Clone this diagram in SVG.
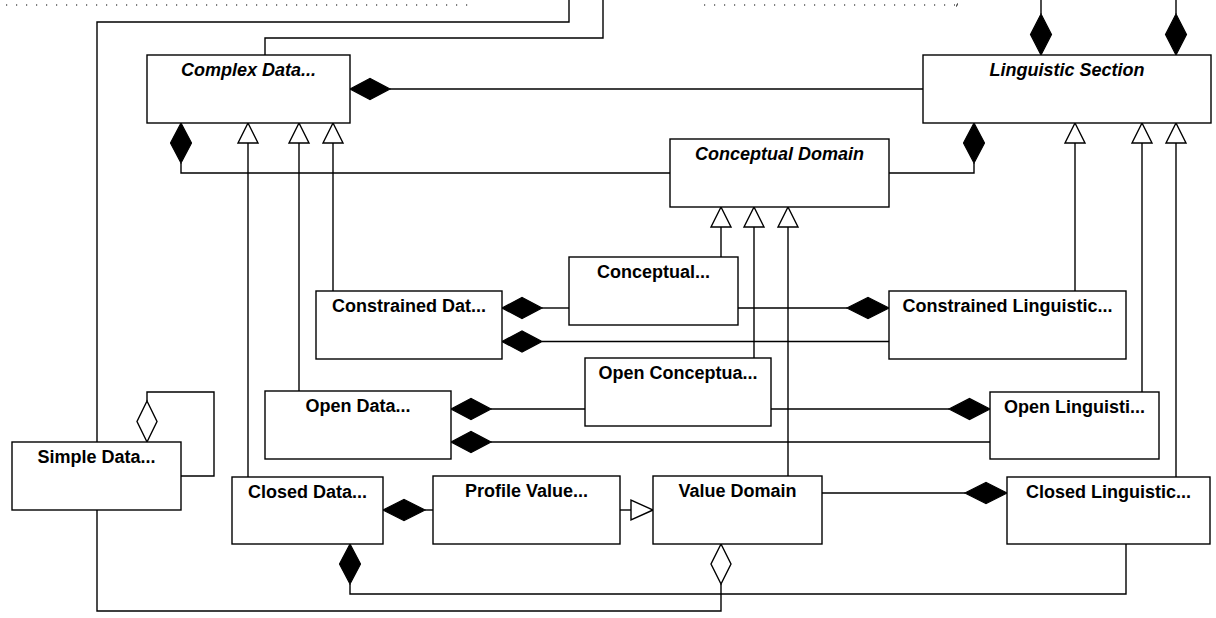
<svg xmlns="http://www.w3.org/2000/svg" width="1216" height="618" viewBox="0 0 1216 618">
<style>
.box{fill:#fff;stroke:#000;stroke-width:1.4}
.t{font-family:"Liberation Sans",Arial,sans-serif;font-size:18px;font-weight:bold;text-anchor:middle;fill:#000}
.i{font-style:italic}
.ln{fill:none;stroke:#000;stroke-width:1.4}
.dot{fill:none;stroke:#000;stroke-width:1.2;stroke-dasharray:1.2 8.8}
.fd{fill:#000;stroke:#000;stroke-width:1.2}
.hd{fill:#fff;stroke:#000;stroke-width:1.4}
</style>
<rect width="1216" height="618" fill="#fff"/>
<g id="connectors">
<line class="dot" x1="6" y1="5" x2="468" y2="5"/>
<line class="dot" x1="704" y1="5" x2="955" y2="5"/>
<line class="ln" x1="957.5" y1="3.5" x2="956.5" y2="6.5" style="stroke-width:1"/>
<polyline class="ln" points="569,0 569,22 97,22 97,442"/>
<polyline class="ln" points="603,0 603,38 265,38 265,55"/>
<polyline class="ln" points="1041,0 1041,14"/>
<polyline class="ln" points="1176,0 1176,14"/>
<polygon class="fd" points="1041,55 1030.5,34.5 1041,14 1051.5,34.5"/>
<polygon class="fd" points="1176,55 1165.5,34.5 1176,14 1186.5,34.5"/>
<line class="ln" x1="390" y1="89" x2="923" y2="89"/>
<polygon class="fd" points="350,89 370,78.5 390,89 370,99.5"/>
<polyline class="ln" points="181,163 181,173 670,173"/>
<polygon class="fd" points="181,123 191.5,143 181,163 170.5,143"/>
<polyline class="ln" points="974,163 974,173 889,173"/>
<polygon class="fd" points="974,123 984.5,143 974,163 963.5,143"/>
<line class="ln" x1="248" y1="143" x2="248" y2="477"/>
<line class="ln" x1="299" y1="143" x2="299" y2="391"/>
<line class="ln" x1="333" y1="143" x2="333" y2="291"/>
<polygon class="hd" points="248,123 258,143 238,143"/>
<polygon class="hd" points="299,123 309,143 289,143"/>
<polygon class="hd" points="333,123 343,143 323,143"/>
<line class="ln" x1="721" y1="227" x2="721" y2="257"/>
<line class="ln" x1="754" y1="227" x2="754" y2="358"/>
<line class="ln" x1="788" y1="227" x2="788" y2="476"/>
<polygon class="hd" points="721,207 731,227 711,227"/>
<polygon class="hd" points="754,207 764,227 744,227"/>
<polygon class="hd" points="788,207 798,227 778,227"/>
<line class="ln" x1="1075" y1="143" x2="1075" y2="291"/>
<line class="ln" x1="1142" y1="143" x2="1142" y2="392"/>
<line class="ln" x1="1176" y1="143" x2="1176" y2="477"/>
<polygon class="hd" points="1075,123 1085,143 1065,143"/>
<polygon class="hd" points="1142,123 1152,143 1132,143"/>
<polygon class="hd" points="1176,123 1186,143 1166,143"/>
<line class="ln" x1="542" y1="308" x2="569" y2="308"/>
<polygon class="fd" points="502,308 522,297.5 542,308 522,318.5"/>
<line class="ln" x1="542" y1="341.5" x2="889" y2="341.5"/>
<polygon class="fd" points="502,341.5 522,331 542,341.5 522,352"/>
<line class="ln" x1="738" y1="308" x2="847" y2="308"/>
<polygon class="fd" points="889,308 868,297.5 847,308 868,318.5"/>
<line class="ln" x1="491" y1="409" x2="585" y2="409"/>
<polygon class="fd" points="451,409 471,398.5 491,409 471,419.5"/>
<line class="ln" x1="491" y1="442" x2="990" y2="442"/>
<polygon class="fd" points="451,442 471,431.5 491,442 471,452.5"/>
<line class="ln" x1="771" y1="409" x2="949" y2="409"/>
<polygon class="fd" points="990,409 969.5,398.5 949,409 969.5,419.5"/>
<line class="ln" x1="425" y1="510" x2="433" y2="510"/>
<polygon class="fd" points="383,510 404,499.5 425,510 404,520.5"/>
<line class="ln" x1="620" y1="510" x2="631" y2="510"/>
<polygon class="hd" points="653,510 631,520 631,500"/>
<line class="ln" x1="822" y1="493" x2="965" y2="493"/>
<polygon class="fd" points="1007,493 986,482.5 965,493 986,503.5"/>
<polyline class="ln" points="350,584 350,594 1126,594 1126,544"/>
<polygon class="fd" points="350,544 360.5,564 350,584 339.5,564"/>
<polyline class="ln" points="147,401 147,392 214,392 214,476 181,476"/>
<polygon class="hd" points="147,442 157,421.5 147,401 137,421.5"/>
<polyline class="ln" points="721,584 721,611 97,611 97,510"/>
<polygon class="hd" points="721,544 731,564 721,584 711,564"/>
</g>
<g id="complex-data"><rect class="box" x="147" y="55" width="203" height="68"/><text class="t i" x="248.5" y="76">Complex Data...</text></g>
<g id="linguistic-section"><rect class="box" x="923" y="55" width="288" height="68"/><text class="t i" x="1067" y="76">Linguistic Section</text></g>
<g id="conceptual-domain"><rect class="box" x="670" y="139" width="219" height="68"/><text class="t i" x="779.5" y="160">Conceptual Domain</text></g>
<g id="conceptual"><rect class="box" x="569" y="257" width="169" height="68"/><text class="t" x="653.5" y="278">Conceptual...</text></g>
<g id="constrained-data"><rect class="box" x="316" y="291" width="186" height="68"/><text class="t" x="409" y="312">Constrained Dat...</text></g>
<g id="constrained-linguistic"><rect class="box" x="889" y="291" width="237" height="68"/><text class="t" x="1007.5" y="312">Constrained Linguistic...</text></g>
<g id="open-conceptual"><rect class="box" x="585" y="358" width="186" height="68"/><text class="t" x="678" y="379">Open Conceptua...</text></g>
<g id="open-data"><rect class="box" x="265" y="391" width="186" height="68"/><text class="t" x="358" y="412">Open Data...</text></g>
<g id="open-linguistic"><rect class="box" x="990" y="392" width="169" height="67"/><text class="t" x="1074.5" y="413">Open Linguisti...</text></g>
<g id="simple-data"><rect class="box" x="12" y="442" width="169" height="68"/><text class="t" x="96.5" y="463">Simple Data...</text></g>
<g id="closed-data"><rect class="box" x="232" y="477" width="151" height="67"/><text class="t" x="307.5" y="498">Closed Data...</text></g>
<g id="profile-value"><rect class="box" x="433" y="476" width="187" height="68"/><text class="t" x="526.5" y="497">Profile Value...</text></g>
<g id="value-domain"><rect class="box" x="653" y="476" width="169" height="68"/><text class="t" x="737.5" y="497">Value Domain</text></g>
<g id="closed-linguistic"><rect class="box" x="1007" y="477" width="203" height="67"/><text class="t" x="1108.5" y="498">Closed Linguistic...</text></g>
</svg>
